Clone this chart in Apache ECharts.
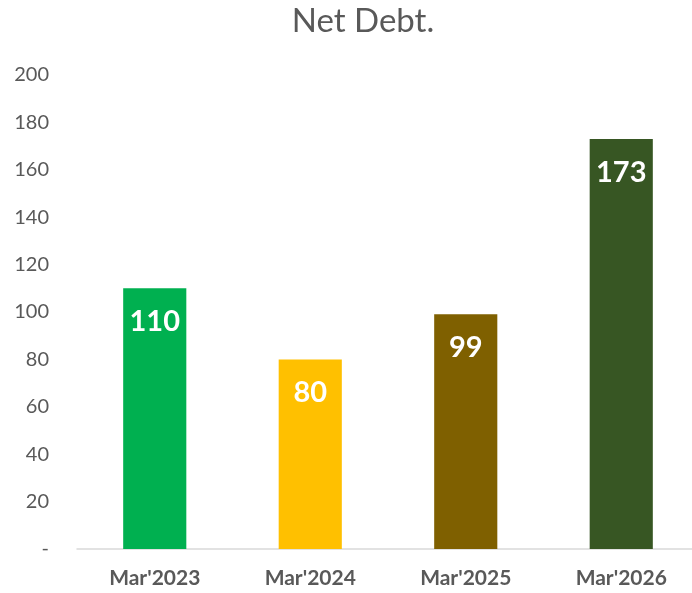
<!DOCTYPE html>
<html><head><meta charset="utf-8">
<script src="https://cdn.jsdelivr.net/npm/echarts@6/dist/echarts.min.js"></script>
<style>html,body{margin:0;padding:0;background:#fff;overflow:hidden}#c{width:704px;height:593px}</style>
</head><body><div id="c"></div>
<script>
var categories = ["Mar'2023", "Mar'2024", "Mar'2025", "Mar'2026"];
var values = [110, 80, 99, 173];
var colors = ["#00B050", "#FFC000", "#7F6000", "#375623"];
var chart = echarts.init(document.getElementById('c'));
chart.setOption({
  animation: false,
  title: {text: 'Net Debt.', left: 358, top: 0, textAlign: 'center',
    textStyle: {fontFamily: 'Lato', fontSize: 33, fontWeight: 'normal', color: '#595959'}},
  grid: {left: 77, top: 75, width: 622, bottom: 44, containLabel: false},
  xAxis: {type: 'category', data: categories,
    axisLine: {lineStyle: {color: '#D9D9D9', width: 1.5}},
    axisTick: {show: false},
    axisLabel: {fontFamily: 'Lato', fontSize: 21, fontWeight: 'bold', color: '#595959', margin: 19}},
  yAxis: {type: 'value', min: 0, max: 200, interval: 20,
    splitLine: {show: false}, axisLine: {show: false}, axisTick: {show: false},
    axisLabel: {fontFamily: 'Lato', fontSize: 20, color: '#595959', margin: 28,
      formatter: function(v){return v === 0 ? '-' : v;}}},
  series: [{type: 'bar', barWidth: '40.6%',
    data: values.map(function(v, i){return {value: v, itemStyle: {color: colors[i]}};}),
    label: {show: true, position: 'insideTop', distance: 19, color: '#fff',
      fontFamily: 'Lato', fontSize: 29, fontWeight: 'bold'}}]
});
</script></body></html>
